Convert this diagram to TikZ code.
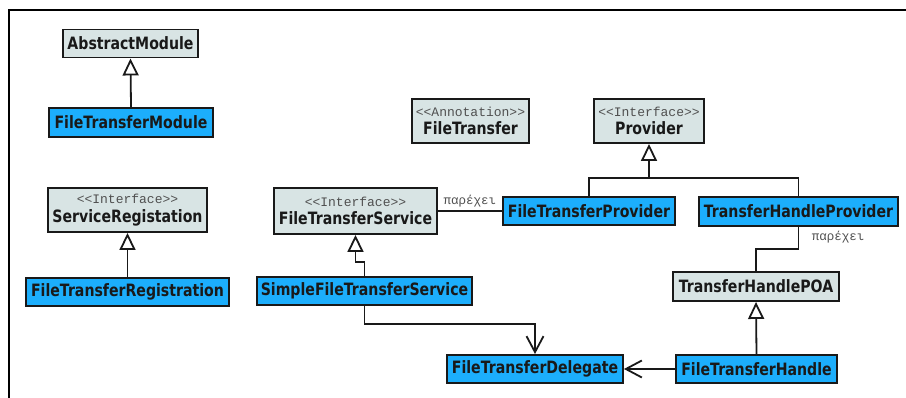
\documentclass[tikz,border=0pt]{standalone}
\usepackage{fontspec}
\setmainfont{DejaVu Sans}[FakeStretch=0.83]
\setmonofont{Liberation Mono}
\usetikzlibrary{arrows.meta}
\definecolor{implblue}{RGB}{28,174,252}
\definecolor{ifacegray}{RGB}{216,228,228}
\definecolor{stgray}{RGB}{80,80,80}
\newcommand{\stereo}[1]{{\ttfamily\mdseries\color{stgray}\fontsize{13}{14}\selectfont #1}}
\tikzset{
  umlbox/.style={draw=black!90, line width=1.9pt, inner sep=0pt, align=center,
    font=\bfseries\fontsize{17}{18.5}\selectfont, text=black!90},
  implbox/.style={umlbox, fill=implblue},
  basebox/.style={umlbox, fill=ifacegray},
  link/.style={draw=black!90, line width=1.8pt},
  inherit/.style={link, -{Triangle[open, length=17pt, width=16pt, line width=1.8pt, fill=white]}},
  uses/.style={link, -{Straight Barb[length=16pt, width=17pt, line width=1.8pt]}},
  rolelabel/.style={font=\ttfamily\fontsize{12.5}{14}\selectfont, text=stgray, inner sep=0pt}
}
\begin{document}
\begin{tikzpicture}[x=1pt, y=-1pt]
\useasboundingbox (0,0) rectangle (906,398);
% frame
\draw[line width=2.6pt] (906,10) -- (9,10) -- (9,398);

% left column
\node[basebox, minimum width=135pt, minimum height=28pt] (am) at (130.5,43.5) {AbstractModule};
\node[implbox, minimum width=164pt, minimum height=29pt] (ftm) at (131,122.5) {FileTransferModule};
\node[basebox, minimum width=159pt, minimum height=44pt] (sr) at (127.5,210) {\stereo{<<Interface>>}\\ServiceRegistation};
\node[implbox, minimum width=203pt, minimum height=28pt] (ftr) at (127.5,292) {FileTransferRegistration};

% middle
\node[basebox, minimum width=117pt, minimum height=44pt] (ft) at (470.5,121) {\stereo{<<Annotation>>}\\FileTransfer};
\node[basebox, minimum width=163pt, minimum height=46pt] (fts) at (355.5,211) {\stereo{<<Interface>>}\\FileTransferService};
\node[implbox, minimum width=215pt, minimum height=28pt] (sfts) at (364.5,291) {SimpleFileTransferService};
\node[implbox, minimum width=176pt, minimum height=28pt] (ftd) at (535,369) {FileTransferDelegate};

% right
\node[basebox, minimum width=110pt, minimum height=44pt] (prov) at (649,121) {\stereo{<<Interface>>}\\Provider};
\node[implbox, minimum width=172pt, minimum height=28pt] (ftp) at (589,211) {FileTransferProvider};
\node[implbox, minimum width=199pt, minimum height=29pt] (thp) at (798.5,211.5) {TransferHandleProvider};
\node[basebox, minimum width=166pt, minimum height=29pt] (poa) at (756,286.5) {TransferHandlePOA};
\node[implbox, minimum width=161pt, minimum height=28pt] (fth) at (756.5,369) {FileTransferHandle};

% generalisations
\draw[inherit] (ftm.north) -- (am.south);
\draw[inherit] (ftr.north) -- (sr.south);
\draw[inherit] (sfts.north) -- ++(0,-14) -| (fts.south);
\draw[inherit] (fth.north) -- (poa.south);
\coordinate (pj) at (649,178);
\draw[link] (ftp.north) |- (pj) -| (thp.north);
\draw[inherit] (pj) -- (prov.south);

% associations
\draw[link] (fts.east) -- node[rolelabel, above=3pt, pos=0.5] (l1) {παρέχει} (ftp.west);
\draw[link] (thp.south) -- ++(0,22) -| (poa.north);
\node[rolelabel] (l2) at (838,237) {παρέχει};
\draw[uses] (sfts.south) -- ++(0,18) -| (ftd.north);
\draw[uses] (fth.west) -- (ftd.east);
\end{tikzpicture}
\end{document}
